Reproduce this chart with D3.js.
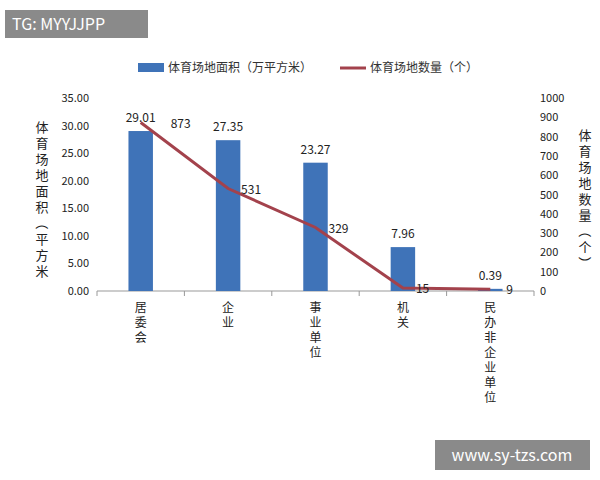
<!DOCTYPE html>
<html><head><meta charset="utf-8">
<script src="https://cdn.jsdelivr.net/npm/d3@7"></script>
<style>body{margin:0;background:#fff}text{font-family:"Noto Sans CJK SC","Noto Sans",sans-serif}</style>
</head><body><svg id="c" width="600" height="480"></svg>
<script>
var cats = ['居委会','企业','事业单位','机关','民办非企业单位'];
var areaVals = [29.01, 27.35, 23.27, 7.96, 0.39];
var countVals = [873, 531, 329, 15, 9];
var leftTicks = [0,5,10,15,20,25,30,35];
var rightTicks = [0,100,200,300,400,500,600,700,800,900,1000];

var svg = d3.select('#c');
var x = d3.scaleBand().domain(cats).range([97,534]).paddingInner(0.72).paddingOuter(0.36);
var yL = d3.scaleLinear().domain([0,35]).range([291,98]);
var yR = d3.scaleLinear().domain([0,1000]).range([291,98]);

svg.append('rect').attr('x',5).attr('y',10).attr('width',143).attr('height',28).attr('fill','#8a8a8a');
svg.append('text').attr('x',12).attr('y',30).attr('fill','#fff').attr('font-size',16).text('TG: MYYJJPP');

svg.append('rect').attr('x',138).attr('y',63).attr('width',26).attr('height',9).attr('fill','#3f73b8');
svg.append('text').attr('x',168).attr('y',72).attr('font-size',12).attr('fill','#333').text('体育场地面积（万平方米）');
svg.append('line').attr('x1',340).attr('x2',366).attr('y1',68).attr('y2',68).attr('stroke','#a3424c').attr('stroke-width',3);
svg.append('text').attr('x',370).attr('y',72).attr('font-size',12).attr('fill','#333').text('体育场地数量（个）');

svg.append('g').attr('transform','translate(97,0)')
  .call(d3.axisLeft(yL).tickValues(leftTicks).tickFormat(d3.format('.2f')).tickSize(0).tickPadding(8))
  .call(function(g){g.select('.domain').remove();g.selectAll('text').attr('font-size',11).attr('fill','#222');});
svg.append('g').attr('transform','translate(534,0)')
  .call(d3.axisRight(yR).tickValues(rightTicks).tickFormat(d3.format('d')).tickSize(0).tickPadding(6))
  .call(function(g){g.select('.domain').remove();g.selectAll('text').attr('font-size',11).attr('fill','#222');});
svg.append('line').attr('x1',97).attr('x2',534).attr('y1',291).attr('y2',291).attr('stroke','#999');
cats.forEach(function(c,i){
  var xx = 97 + (534-97)/cats.length*(i+1);
  svg.append('line').attr('x1',xx).attr('x2',xx).attr('y1',291).attr('y2',296).attr('stroke','#999');
});
svg.append('line').attr('x1',97).attr('x2',97).attr('y1',291).attr('y2',296).attr('stroke','#999');

function vtext(str,xx,y0,step,size){
  str.split('').forEach(function(ch,i){
    svg.append('text').attr('x',xx).attr('y',y0+i*step).attr('text-anchor','middle')
      .attr('font-size',size).attr('fill','#222')
      .attr('transform',(ch==='（'||ch==='）')?'rotate(90,'+xx+','+(y0+i*step-5)+')':null).text(ch);
  });
}
vtext('体育场地面积（平方米',42,132,16,13);
vtext('体育场地数量（个）',585,140,16,13);

svg.selectAll('.bar').data(areaVals).enter().append('rect')
  .attr('x',function(d,i){return x(cats[i]);}).attr('width',x.bandwidth())
  .attr('y',function(d){return yL(d);}).attr('height',function(d){return 291-yL(d);})
  .attr('fill','#3f73b8');
svg.selectAll('.bl').data(areaVals).enter().append('text')
  .attr('x',function(d,i){return x(cats[i])+x.bandwidth()/2;})
  .attr('y',function(d){return yL(d)-9;}).attr('text-anchor','middle').attr('font-size',12).attr('fill','#222')
  .text(function(d){return d.toFixed(2);});

var cx = function(i){return x(cats[i])+x.bandwidth()/2;};
svg.append('path').datum(countVals)
  .attr('d',d3.line().x(function(d,i){return cx(i);}).y(function(d){return yR(d);}))
  .attr('fill','none').attr('stroke','#a3424c').attr('stroke-width',3);
var lx = [30,13,13,13,16];
svg.selectAll('.ll').data(countVals).enter().append('text')
  .attr('x',function(d,i){return cx(i)+lx[i];})
  .attr('y',function(d){return yR(d)+5;}).attr('font-size',12).attr('fill','#222')
  .text(function(d){return d;});

cats.forEach(function(c,i){ vtext(c,cx(i),312,15,12); });

svg.append('rect').attr('x',435).attr('y',440).attr('width',155).attr('height',30).attr('fill','#8a8a8a');
svg.append('text').attr('x',512).attr('y',461).attr('text-anchor','middle').attr('fill','#fff').attr('font-size',16).text('www.sy-tzs.com');
</script></body></html>
